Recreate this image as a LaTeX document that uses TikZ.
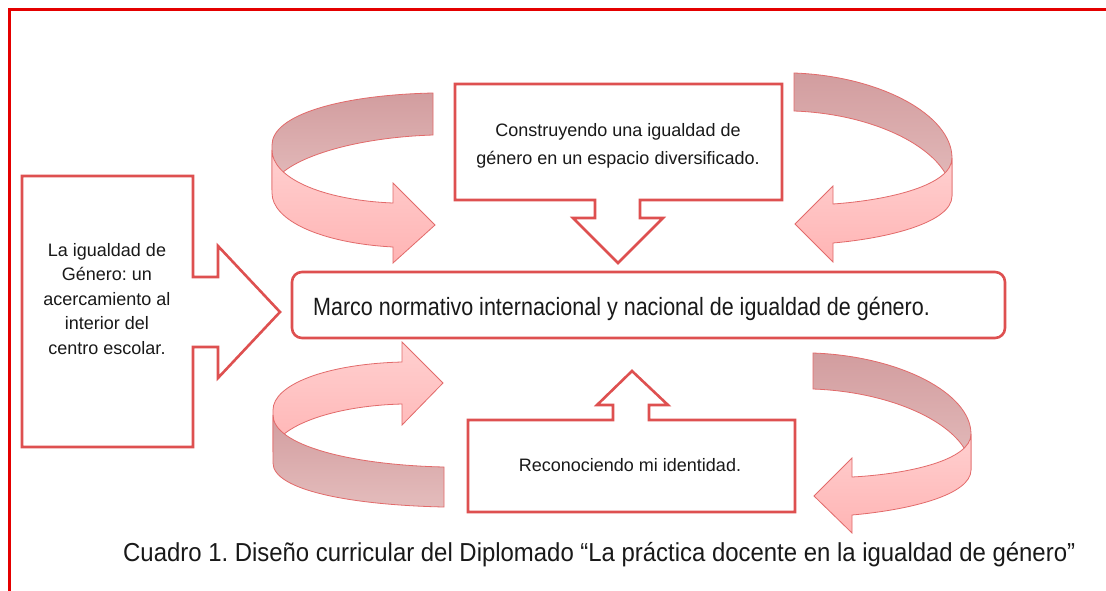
\documentclass[tikz,border=0pt]{standalone}
\usepackage{fontspec}
\setmainfont{Liberation Sans}
\newfontfamily\narrowmain[FakeStretch=0.86]{Liberation Sans}
\newfontfamily\narrowcap[FakeStretch=0.92]{Liberation Sans}
\definecolor{frame}{RGB}{228,0,0}
\definecolor{boxred}{RGB}{222,80,80}
\definecolor{ribedge}{RGB}{226,106,106}
\definecolor{ribdarkA}{RGB}{210,157,159}
\definecolor{ribdarkB}{RGB}{228,188,188}
\definecolor{riblightA}{RGB}{255,180,180}
\definecolor{riblightB}{RGB}{255,208,208}
\definecolor{txt}{RGB}{25,25,25}
\frenchspacing
\begin{document}
\begin{tikzpicture}[x=1pt,y=-1pt,
  outerframe/.style={draw=frame,line width=3pt},
  callout/.style={draw=boxred,line width=2.6pt,fill=white,line join=miter},
  mainbox/.style={draw=boxred,line width=2.6pt,rounded corners=10pt,fill=white},
  ribdark/.style={draw=ribedge,line width=0.8pt,top color=ribdarkA,bottom color=ribdarkB},
  riblight/.style={draw=ribedge,line width=0.8pt,top color=riblightB,bottom color=riblightA},
  lbl/.style={text=txt,font=\fontsize{18}{24.5}\selectfont,align=center,inner sep=0pt},
]
\useasboundingbox (0,0) rectangle (1106,590);
\fill[white] (0,0) rectangle (1106,590);
\draw[outerframe] (9,595) -- (9,9) -- (1110,9);

% ---------- curved ribbon arrows ----------
% top-left
\path[ribdark] (433,93) .. controls (340,95) and (272,115) .. (272,145)
  -- (272,190) .. controls (272,165) and (340,138) .. (433,135) -- cycle;
\path[riblight] (272,150) .. controls (272,177) and (320,200) .. (393,203)
  -- (393,183) -- (435,225) -- (393,263) -- (393,247)
  .. controls (320,243) and (272,220) .. (272,193) -- cycle;
% top-right
\path[ribdark] (794,73) .. controls (880,76) and (952,115) .. (952,158)
  -- (952,196) .. controls (952,153) and (880,114) .. (794,111) -- cycle;
\path[riblight] (952,158) .. controls (952,185) and (890,200) .. (833,204)
  -- (833,186) -- (795,224) -- (833,262) -- (833,243)
  .. controls (890,238) and (952,222) .. (952,196) -- cycle;
% bottom-left
\path[riblight] (273,410) .. controls (273,385) and (325,364) .. (402,362)
  -- (402,342) -- (443,383) -- (402,425) -- (402,404)
  .. controls (325,406) and (273,430) .. (273,452) -- cycle;
\path[ribdark] (273,415) .. controls (273,445) and (350,465) .. (444,467)
  -- (444,507) .. controls (350,505) and (273,490) .. (273,463) -- cycle;
% bottom-right
\path[ribdark] (813,353) .. controls (899,356) and (971,393) .. (971,434)
  -- (971,470) .. controls (971,429) and (899,392) .. (813,389) -- cycle;
\path[riblight] (971,434) .. controls (971,460) and (909,474) .. (852,477)
  -- (852,458) -- (814,496) -- (852,533) -- (852,515)
  .. controls (909,510) and (971,495) .. (971,470) -- cycle;

% ---------- callouts ----------
\draw[callout] (22,176) -- (193,176) -- (193,277) -- (218,277) -- (218,246)
  -- (280,312) -- (218,378) -- (218,347) -- (193,347) -- (193,447) -- (22,447) -- cycle;
\node[lbl] (left) at (107,299) {La igualdad de\\Género: un\\acercamiento al\\interior del\\centro escolar.};

\draw[callout] (455,84) -- (782,84) -- (782,200) -- (640,200) -- (640,218) -- (663,218)
  -- (618,263) -- (573,218) -- (595,218) -- (595,200) -- (455,200) -- cycle;
\node[lbl,font=\fontsize{18}{28}\selectfont] (top) at (618,146) {Construyendo una igualdad de\\género en un espacio diversificado.};

\draw[callout] (468,420) -- (613,420) -- (613,405) -- (597,405) -- (632,371) -- (668,405)
  -- (649,405) -- (649,420) -- (795,420) -- (795,512) -- (468,512) -- cycle;
\node[lbl] (bottom) at (630,465) {Reconociendo mi identidad.};

\draw[mainbox] (292,272) rectangle (1005,338);
\node[lbl,font=\narrowmain\fontsize{25}{30}\selectfont,anchor=base west] (main) at (313,315) {Marco normativo internacional y nacional de igualdad de género.};

\node[lbl,font=\narrowcap\fontsize{26}{30}\selectfont,anchor=base west] (caption) at (123,561) {Cuadro 1. Diseño curricular del Diplomado “La práctica docente en la igualdad de género”};
\end{tikzpicture}
\end{document}
